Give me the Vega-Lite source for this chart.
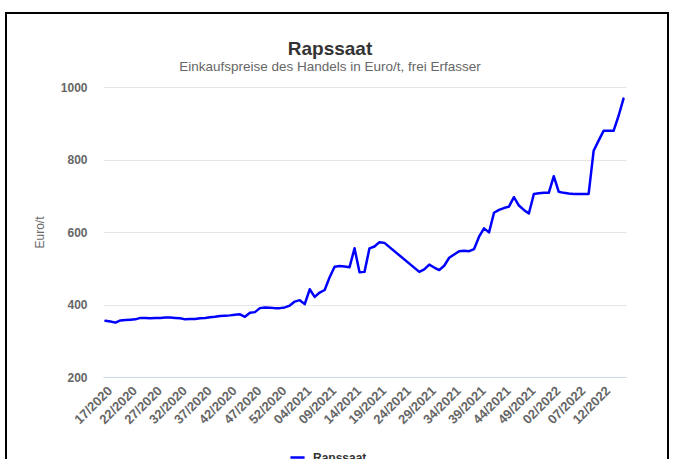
{
  "$schema": "https://vega.github.io/schema/vega-lite/v6.json",
  "autosize": {"type": "none"},
  "padding": {"left": 6, "top": 13, "right": 5, "bottom": -2},
  "width": 662,
  "height": 448,
  "background": "#ffffff",
  "title": {
    "text": "Rapssaat",
    "subtitle": "Einkaufspreise des Handels in Euro/t, frei Erfasser",
    "anchor": "middle",
    "frame": "group",
    "offset": -60,
    "dx": -7,
    "font": "Liberation Sans",
    "fontSize": 19,
    "fontWeight": "bold",
    "color": "#333333",
    "subtitleFont": "Liberation Sans",
    "subtitleFontSize": 13.5,
    "subtitleColor": "#666666",
    "subtitlePadding": 1
  },
  "config": {"view": {"stroke": "#000000", "strokeWidth": 2}},
  "data": {
    "values": [
      {"Woche": "17/2020", "Preis": 355, "Reihe": "Rapssaat"},
      {"Woche": "18/2020", "Preis": 353, "Reihe": "Rapssaat"},
      {"Woche": "19/2020", "Preis": 350, "Reihe": "Rapssaat"},
      {"Woche": "20/2020", "Preis": 356, "Reihe": "Rapssaat"},
      {"Woche": "21/2020", "Preis": 357, "Reihe": "Rapssaat"},
      {"Woche": "22/2020", "Preis": 358, "Reihe": "Rapssaat"},
      {"Woche": "23/2020", "Preis": 359, "Reihe": "Rapssaat"},
      {"Woche": "24/2020", "Preis": 363, "Reihe": "Rapssaat"},
      {"Woche": "25/2020", "Preis": 363, "Reihe": "Rapssaat"},
      {"Woche": "26/2020", "Preis": 362, "Reihe": "Rapssaat"},
      {"Woche": "27/2020", "Preis": 363, "Reihe": "Rapssaat"},
      {"Woche": "28/2020", "Preis": 363, "Reihe": "Rapssaat"},
      {"Woche": "29/2020", "Preis": 364, "Reihe": "Rapssaat"},
      {"Woche": "30/2020", "Preis": 364, "Reihe": "Rapssaat"},
      {"Woche": "31/2020", "Preis": 363, "Reihe": "Rapssaat"},
      {"Woche": "32/2020", "Preis": 362, "Reihe": "Rapssaat"},
      {"Woche": "33/2020", "Preis": 359, "Reihe": "Rapssaat"},
      {"Woche": "34/2020", "Preis": 360, "Reihe": "Rapssaat"},
      {"Woche": "35/2020", "Preis": 360, "Reihe": "Rapssaat"},
      {"Woche": "36/2020", "Preis": 362, "Reihe": "Rapssaat"},
      {"Woche": "37/2020", "Preis": 363, "Reihe": "Rapssaat"},
      {"Woche": "38/2020", "Preis": 365, "Reihe": "Rapssaat"},
      {"Woche": "39/2020", "Preis": 366, "Reihe": "Rapssaat"},
      {"Woche": "40/2020", "Preis": 368, "Reihe": "Rapssaat"},
      {"Woche": "41/2020", "Preis": 369, "Reihe": "Rapssaat"},
      {"Woche": "42/2020", "Preis": 370, "Reihe": "Rapssaat"},
      {"Woche": "43/2020", "Preis": 372, "Reihe": "Rapssaat"},
      {"Woche": "44/2020", "Preis": 373, "Reihe": "Rapssaat"},
      {"Woche": "45/2020", "Preis": 366, "Reihe": "Rapssaat"},
      {"Woche": "46/2020", "Preis": 377, "Reihe": "Rapssaat"},
      {"Woche": "47/2020", "Preis": 379, "Reihe": "Rapssaat"},
      {"Woche": "48/2020", "Preis": 390, "Reihe": "Rapssaat"},
      {"Woche": "49/2020", "Preis": 392, "Reihe": "Rapssaat"},
      {"Woche": "50/2020", "Preis": 391, "Reihe": "Rapssaat"},
      {"Woche": "51/2020", "Preis": 390, "Reihe": "Rapssaat"},
      {"Woche": "52/2020", "Preis": 390, "Reihe": "Rapssaat"},
      {"Woche": "53/2020", "Preis": 392, "Reihe": "Rapssaat"},
      {"Woche": "01/2021", "Preis": 397, "Reihe": "Rapssaat"},
      {"Woche": "02/2021", "Preis": 408, "Reihe": "Rapssaat"},
      {"Woche": "03/2021", "Preis": 412, "Reihe": "Rapssaat"},
      {"Woche": "04/2021", "Preis": 401, "Reihe": "Rapssaat"},
      {"Woche": "05/2021", "Preis": 442, "Reihe": "Rapssaat"},
      {"Woche": "06/2021", "Preis": 421, "Reihe": "Rapssaat"},
      {"Woche": "07/2021", "Preis": 433, "Reihe": "Rapssaat"},
      {"Woche": "08/2021", "Preis": 440, "Reihe": "Rapssaat"},
      {"Woche": "09/2021", "Preis": 475, "Reihe": "Rapssaat"},
      {"Woche": "10/2021", "Preis": 504, "Reihe": "Rapssaat"},
      {"Woche": "11/2021", "Preis": 506, "Reihe": "Rapssaat"},
      {"Woche": "12/2021", "Preis": 505, "Reihe": "Rapssaat"},
      {"Woche": "13/2021", "Preis": 503, "Reihe": "Rapssaat"},
      {"Woche": "14/2021", "Preis": 555, "Reihe": "Rapssaat"},
      {"Woche": "15/2021", "Preis": 489, "Reihe": "Rapssaat"},
      {"Woche": "16/2021", "Preis": 490, "Reihe": "Rapssaat"},
      {"Woche": "17/2021", "Preis": 555, "Reihe": "Rapssaat"},
      {"Woche": "18/2021", "Preis": 560, "Reihe": "Rapssaat"},
      {"Woche": "19/2021", "Preis": 572, "Reihe": "Rapssaat"},
      {"Woche": "20/2021", "Preis": 570, "Reihe": "Rapssaat"},
      {"Woche": "27/2021", "Preis": 490, "Reihe": "Rapssaat"},
      {"Woche": "28/2021", "Preis": 497, "Reihe": "Rapssaat"},
      {"Woche": "29/2021", "Preis": 510, "Reihe": "Rapssaat"},
      {"Woche": "30/2021", "Preis": 502, "Reihe": "Rapssaat"},
      {"Woche": "31/2021", "Preis": 495, "Reihe": "Rapssaat"},
      {"Woche": "32/2021", "Preis": 507, "Reihe": "Rapssaat"},
      {"Woche": "33/2021", "Preis": 529, "Reihe": "Rapssaat"},
      {"Woche": "34/2021", "Preis": 538, "Reihe": "Rapssaat"},
      {"Woche": "35/2021", "Preis": 547, "Reihe": "Rapssaat"},
      {"Woche": "36/2021", "Preis": 548, "Reihe": "Rapssaat"},
      {"Woche": "37/2021", "Preis": 547, "Reihe": "Rapssaat"},
      {"Woche": "38/2021", "Preis": 553, "Reihe": "Rapssaat"},
      {"Woche": "39/2021", "Preis": 587, "Reihe": "Rapssaat"},
      {"Woche": "40/2021", "Preis": 610, "Reihe": "Rapssaat"},
      {"Woche": "41/2021", "Preis": 599, "Reihe": "Rapssaat"},
      {"Woche": "42/2021", "Preis": 653, "Reihe": "Rapssaat"},
      {"Woche": "43/2021", "Preis": 661, "Reihe": "Rapssaat"},
      {"Woche": "44/2021", "Preis": 666, "Reihe": "Rapssaat"},
      {"Woche": "45/2021", "Preis": 670, "Reihe": "Rapssaat"},
      {"Woche": "46/2021", "Preis": 696, "Reihe": "Rapssaat"},
      {"Woche": "47/2021", "Preis": 673, "Reihe": "Rapssaat"},
      {"Woche": "48/2021", "Preis": 661, "Reihe": "Rapssaat"},
      {"Woche": "49/2021", "Preis": 651, "Reihe": "Rapssaat"},
      {"Woche": "50/2021", "Preis": 705, "Reihe": "Rapssaat"},
      {"Woche": "51/2021", "Preis": 707, "Reihe": "Rapssaat"},
      {"Woche": "52/2021", "Preis": 708, "Reihe": "Rapssaat"},
      {"Woche": "01/2022", "Preis": 708, "Reihe": "Rapssaat"},
      {"Woche": "02/2022", "Preis": 754, "Reihe": "Rapssaat"},
      {"Woche": "03/2022", "Preis": 711, "Reihe": "Rapssaat"},
      {"Woche": "04/2022", "Preis": 708, "Reihe": "Rapssaat"},
      {"Woche": "05/2022", "Preis": 706, "Reihe": "Rapssaat"},
      {"Woche": "06/2022", "Preis": 705, "Reihe": "Rapssaat"},
      {"Woche": "07/2022", "Preis": 705, "Reihe": "Rapssaat"},
      {"Woche": "08/2022", "Preis": 705, "Reihe": "Rapssaat"},
      {"Woche": "09/2022", "Preis": 705, "Reihe": "Rapssaat"},
      {"Woche": "10/2022", "Preis": 824, "Reihe": "Rapssaat"},
      {"Woche": "11/2022", "Preis": 852, "Reihe": "Rapssaat"},
      {"Woche": "12/2022", "Preis": 879, "Reihe": "Rapssaat"},
      {"Woche": "13/2022", "Preis": 879, "Reihe": "Rapssaat"},
      {"Woche": "14/2022", "Preis": 879, "Reihe": "Rapssaat"},
      {"Woche": "15/2022", "Preis": 920, "Reihe": "Rapssaat"},
      {"Woche": "16/2022", "Preis": 968, "Reihe": "Rapssaat"}
    ]
  },
  "mark": {"type": "line", "strokeWidth": 2.5, "strokeJoin": "round", "strokeCap": "round"},
  "encoding": {
    "x": {
      "field": "Woche",
      "type": "ordinal",
      "sort": null,
      "scale": {
        "type": "point",
        "padding": 0.5,
        "range": [97, 620],
        "domain": ["17/2020","18/2020","19/2020","20/2020","21/2020","22/2020","23/2020","24/2020","25/2020","26/2020","27/2020","28/2020","29/2020","30/2020","31/2020","32/2020","33/2020","34/2020","35/2020","36/2020","37/2020","38/2020","39/2020","40/2020","41/2020","42/2020","43/2020","44/2020","45/2020","46/2020","47/2020","48/2020","49/2020","50/2020","51/2020","52/2020","53/2020",
          "01/2021","02/2021","03/2021","04/2021","05/2021","06/2021","07/2021","08/2021","09/2021","10/2021","11/2021","12/2021","13/2021","14/2021","15/2021","16/2021","17/2021","18/2021","19/2021","20/2021","21/2021","22/2021","23/2021","24/2021","25/2021","26/2021","27/2021","28/2021","29/2021","30/2021","31/2021","32/2021","33/2021","34/2021","35/2021","36/2021","37/2021","38/2021","39/2021","40/2021","41/2021","42/2021","43/2021","44/2021","45/2021","46/2021","47/2021","48/2021","49/2021","50/2021","51/2021","52/2021",
          "01/2022","02/2022","03/2022","04/2022","05/2022","06/2022","07/2022","08/2022","09/2022","10/2022","11/2022","12/2022","13/2022","14/2022","15/2022","16/2022"]
      },
      "axis": {
        "values": ["17/2020","22/2020","27/2020","32/2020","37/2020","42/2020","47/2020","52/2020","04/2021","09/2021","14/2021","19/2021","24/2021","29/2021","34/2021","39/2021","44/2021","49/2021","02/2022","07/2022","12/2022"],
        "title": null,
        "offset": -84,
        "labelAngle": -45,
        "labelFont": "Liberation Sans",
        "labelFontSize": 13,
        "labelFontWeight": "bold",
        "labelColor": "#666666",
        "labelPadding": 7,
        "labelDx": -4,
        "labelOverlap": false,
        "ticks": false,
        "grid": false,
        "domainColor": "#ccd6eb",
        "domainWidth": 1
      }
    },
    "y": {
      "field": "Preis",
      "type": "quantitative",
      "scale": {"domain": [200, 1000], "range": [364, 74], "nice": false, "zero": false},
      "axis": {
        "values": [200, 400, 600, 800, 1000],
        "format": "d",
        "title": "Euro/t",
        "offset": -97,
        "domain": false,
        "ticks": false,
        "tickSize": 0,
        "gridColor": "#e6e6e6",
        "gridWidth": 1,
        "labelFont": "Liberation Sans",
        "labelFontSize": 12,
        "labelFontWeight": "bold",
        "labelColor": "#666666",
        "labelPadding": 16,
        "titleFont": "Liberation Sans",
        "titleFontSize": 12,
        "titleFontWeight": "normal",
        "titleColor": "#666666",
        "titlePadding": 14
      }
    },
    "color": {
      "field": "Reihe",
      "type": "nominal",
      "scale": {"range": ["#0000ff"]},
      "legend": {
        "title": null,
        "orient": "none",
        "legendX": 283,
        "legendY": 436,
        "padding": 0,
        "symbolType": "stroke",
        "symbolStrokeWidth": 2.5,
        "symbolSize": 200,
        "labelFont": "Liberation Sans",
        "labelFontSize": 12,
        "labelFontWeight": "bold",
        "labelColor": "#333333",
        "labelOffset": 7
      }
    }
  }
}
